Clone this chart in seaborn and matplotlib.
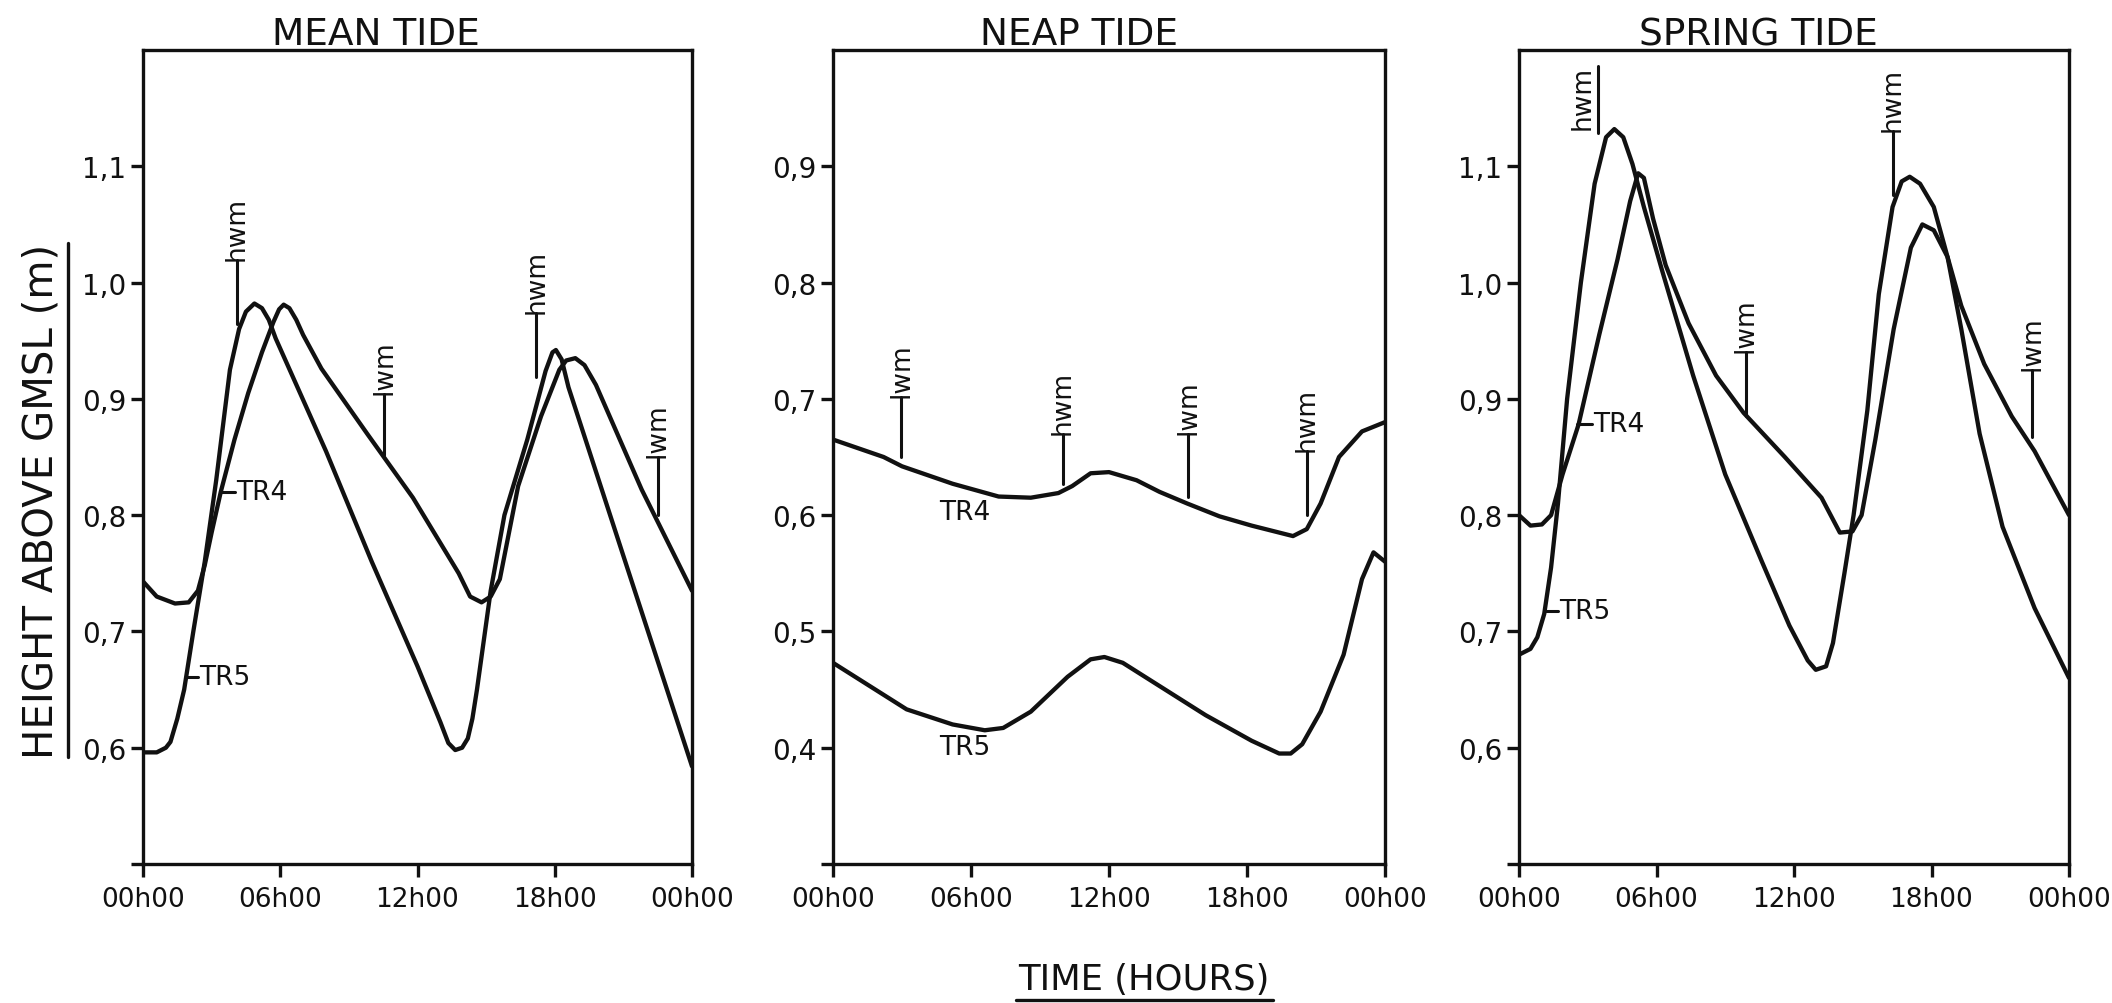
import matplotlib
matplotlib.use("Agg")
import matplotlib.pyplot as plt
from matplotlib.lines import Line2D
import seaborn as sns
import pandas as pd

# ---------------- data (hours, height above GMSL in m) ----------------
titles = ["MEAN TIDE", "NEAP TIDE", "SPRING TIDE"]
x_ticks = [0, 6, 12, 18, 24]
x_ticklabels = ["00h00", "06h00", "12h00", "18h00", "00h00"]

mean_tr4_h = [0, 0.6, 1.4, 2.0, 2.4, 2.7, 3.0, 3.4, 4.0, 4.6, 5.2, 5.7, 5.95, 6.15, 6.4, 6.7, 7.0, 7.8,
              9.8, 11.8, 13.8, 14.3, 14.8, 15.2, 15.6, 16.4, 17.4, 18.2, 18.5, 18.9, 19.3, 19.8,
              21.8, 24]
mean_tr4_v = [0.743, 0.730, 0.724, 0.725, 0.735, 0.757, 0.785, 0.820, 0.865, 0.905, 0.940, 0.966, 0.977, 0.981, 0.978, 0.968, 0.955, 0.926,
              0.870, 0.815, 0.750, 0.730, 0.725, 0.730, 0.745, 0.825, 0.885, 0.925, 0.933, 0.935, 0.929, 0.912,
              0.822, 0.735]

mean_tr5_h = [0, 0.6, 1.0, 1.2, 1.5, 1.8, 2.2, 2.7, 3.2, 3.8, 4.2, 4.5, 4.87, 5.2, 5.5, 5.8,
              8.0, 10.0, 12.0, 13.0, 13.35, 13.65, 13.95, 14.2, 14.4, 14.6, 15.2, 15.8, 16.8, 17.6,
              17.9, 18.05, 18.3, 18.6, 21.0, 24]
mean_tr5_v = [0.596, 0.596, 0.600, 0.605, 0.625, 0.650, 0.700, 0.760, 0.830, 0.925, 0.960, 0.975, 0.982, 0.978, 0.968, 0.952,
              0.855, 0.760, 0.670, 0.622, 0.604, 0.598, 0.600, 0.608, 0.625, 0.650, 0.735, 0.800, 0.865, 0.924,
              0.940, 0.942, 0.934, 0.910, 0.765, 0.584]

neap_tr4_h = [0, 2.2, 3.0, 5.2, 7.2, 8.6, 9.8, 10.4, 11.2, 12.0, 13.2, 14.2, 15.4, 16.8, 18.2, 19.4,
              20.0, 20.6, 21.2, 22.0, 23.0, 24]
neap_tr4_v = [0.665, 0.650, 0.642, 0.627, 0.616, 0.615, 0.619, 0.625, 0.636, 0.637, 0.630, 0.620, 0.610, 0.599, 0.591, 0.585,
              0.582, 0.588, 0.610, 0.650, 0.672, 0.680]

neap_tr5_h = [0, 1.2, 3.2, 5.2, 6.6, 7.4, 8.6, 10.2, 11.2, 11.8, 12.6, 14.2, 16.2, 18.2, 19.4, 19.9,
              20.4, 21.2, 22.2, 23.0, 23.5, 24]
neap_tr5_v = [0.473, 0.458, 0.433, 0.420, 0.415, 0.417, 0.431, 0.461, 0.476, 0.478, 0.473, 0.453, 0.428, 0.406, 0.395, 0.395,
              0.403, 0.431, 0.480, 0.545, 0.568, 0.560]

spring_tr4_h = [0, 0.5, 1.0, 1.4, 1.9, 2.6, 3.5, 4.3, 4.85, 5.2, 5.45, 5.85, 6.4, 7.4, 8.6, 9.8,
                11.6, 13.2, 14.0, 14.55, 14.95, 15.55, 16.35, 17.1, 17.6, 18.1, 18.7, 19.3, 20.3, 21.5,
                22.5, 24]
spring_tr4_v = [0.800, 0.791, 0.792, 0.800, 0.835, 0.878, 0.955, 1.020, 1.070, 1.094, 1.090, 1.055, 1.015, 0.965, 0.920, 0.888,
                0.850, 0.815, 0.785, 0.786, 0.800, 0.865, 0.960, 1.030, 1.050, 1.045, 1.022, 0.980, 0.930, 0.885,
                0.855, 0.800]

spring_tr5_h = [0, 0.5, 0.8, 1.1, 1.4, 1.7, 2.1, 2.7, 3.3, 3.8, 4.16, 4.55, 4.95, 5.45, 6.25, 7.6,
                9.0, 10.6, 11.8, 12.6, 12.95, 13.4, 13.7, 14.2, 14.6, 15.2, 15.7, 16.3, 16.7, 17.05,
                17.5, 18.1, 18.7, 19.3, 20.1, 21.1, 22.5, 24]
spring_tr5_v = [0.680, 0.685, 0.695, 0.715, 0.755, 0.810, 0.900, 1.000, 1.085, 1.125, 1.132, 1.125, 1.102, 1.065, 1.010, 0.920,
                0.835, 0.760, 0.705, 0.675, 0.667, 0.670, 0.690, 0.750, 0.800, 0.890, 0.990, 1.065, 1.087, 1.091,
                1.085, 1.065, 1.022, 0.960, 0.870, 0.790, 0.720, 0.660]

# y axes
y_limits = [(0.5, 1.2), (0.3, 1.0), (0.5, 1.2)]
y_ticks = [[0.5, 0.6, 0.7, 0.8, 0.9, 1.0, 1.1],
           [0.3, 0.4, 0.5, 0.6, 0.7, 0.8, 0.9],
           [0.5, 0.6, 0.7, 0.8, 0.9, 1.0, 1.1]]
y_ticklabels = [["", "0,6", "0,7", "0,8", "0,9", "1,0", "1,1"],
                ["", "0,4", "0,5", "0,6", "0,7", "0,8", "0,9"],
                ["", "0,6", "0,7", "0,8", "0,9", "1,0", "1,1"]]

# high / low water mark annotations: (label, hour, y_low, y_high)
mean_marks = [("hwm", 4.1, 0.964, 1.019), ("lwm", 10.54, 0.852, 0.904),
              ("hwm", 17.2, 0.919, 0.974), ("lwm", 22.5, 0.800, 0.850)]
neap_marks = [("lwm", 2.96, 0.650, 0.702), ("hwm", 10.0, 0.627, 0.670),
              ("lwm", 15.44, 0.616, 0.670), ("hwm", 20.6, 0.600, 0.655)]
spring_marks = [("lwm", 9.9, 0.885, 0.940), ("hwm", 16.3, 1.075, 1.130),
                ("lwm", 22.4, 0.867, 0.925)]

# series labels: (label, leader_x0, leader_x1, y)  (leader None -> plain text)
mean_labels = [("TR4", 3.41, 4.01, 0.820), ("TR5", 1.90, 2.40, 0.661)]
neap_labels = [("TR4", None, 4.60, 0.603), ("TR5", None, 4.60, 0.401)]
spring_labels = [("TR4", 2.51, 3.17, 0.878), ("TR5", 1.19, 1.72, 0.7175)]

# ---------------- figure ----------------
sns.set_theme(style="ticks")
plt.rcParams["font.family"] = ["DejaVu Sans"]
INK = "#111111"

fig = plt.figure(figsize=(21.12, 10.04), dpi=100)
W, H = 2112, 1004
lefts = [143, 833, 1519]
widths = [549, 552, 550]
bottom_px, top_px = 865, 51

series = [
    [(mean_tr4_h, mean_tr4_v), (mean_tr5_h, mean_tr5_v)],
    [(neap_tr4_h, neap_tr4_v), (neap_tr5_h, neap_tr5_v)],
    [(spring_tr4_h, spring_tr4_v), (spring_tr5_h, spring_tr5_v)],
]
marks = [mean_marks, neap_marks, spring_marks]
labels = [mean_labels, neap_labels, spring_labels]
title_x = [0.425, 0.446, 0.436]

for i in range(3):
    ax = fig.add_axes([lefts[i] / W, (H - bottom_px) / H, widths[i] / W, (bottom_px - top_px) / H])
    for hs, vs in series[i]:
        df = pd.DataFrame({"hour": hs, "height": vs})
        sns.lineplot(data=df, x="hour", y="height", ax=ax, color=INK, lw=3.1,
                     estimator=None, sort=False)
        ax.lines[-1].set_solid_joinstyle("round")
    ax.set_xlim(0, 24)
    ax.set_ylim(*y_limits[i])
    ax.set_xticks(x_ticks)
    ax.set_xticklabels(x_ticklabels, fontsize=19)
    ax.set_yticks(y_ticks[i])
    ax.set_yticklabels(y_ticklabels[i], fontsize=20)
    ax.set_xlabel("")
    ax.set_ylabel("")
    for sp in ax.spines.values():
        sp.set_visible(True)
        sp.set_linewidth(2.4)
        sp.set_color(INK)
    ax.tick_params(axis="both", direction="out", length=9, width=2.4, color=INK, labelcolor=INK)
    ax.tick_params(axis="x", pad=7)
    ax.tick_params(axis="y", pad=3)
    ax.grid(False)
    ax.text(title_x[i], 1.0 + 6 / (bottom_px - top_px), titles[i], transform=ax.transAxes,
            ha="center", va="baseline", fontsize=27, color=INK)

    for lab, hx, y0, y1 in marks[i]:
        ax.plot([hx, hx], [y0, y1], color=INK, lw=2.2)
        ax.text(hx, y1, lab, rotation=90, ha="center", va="bottom", fontsize=19, color=INK)

    for lab, x0, x1, yy in labels[i]:
        if x0 is not None:
            ax.plot([x0, x1], [yy, yy], color=INK, lw=2.2)
            ax.text(x1 + 0.05, yy, lab, ha="left", va="center", fontsize=19, color=INK)
        else:
            ax.text(x1, yy, lab, ha="left", va="center", fontsize=19, color=INK)

    if i == 2:
        # underlined "hwm" at first spring high water
        ax.plot([3.45, 3.45], [1.129, 1.186], color=INK, lw=2.2)
        ax.text(2.79, 1.160, "hwm", rotation=90, ha="center", va="center", fontsize=19, color=INK)

# y label with underline
fig.text(42 / W, 1 - 501 / H, "HEIGHT ABOVE GMSL (m)", rotation=90, ha="center", va="center",
         fontsize=29, color=INK)
fig.add_artist(Line2D([68 / W, 68 / W], [1 - 758 / H, 1 - 244 / H], color=INK, lw=2.4))

# x label with underline
fig.text(1144 / W, 1 - 990 / H, "TIME (HOURS)", ha="center", va="baseline", fontsize=25.5, color=INK)
fig.add_artist(Line2D([1016 / W, 1273 / W], [1 - 1001 / H, 1 - 1001 / H], color=INK, lw=2.4))

fig.savefig("out.png", dpi=100, facecolor="white")
